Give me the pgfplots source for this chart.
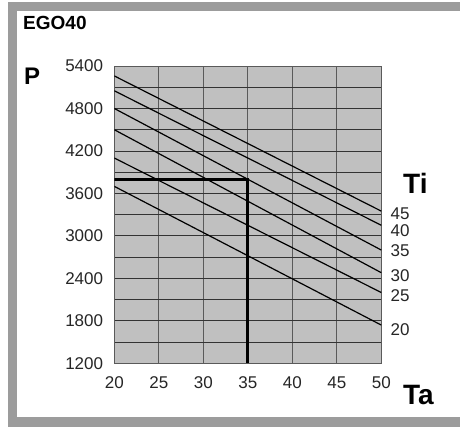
\documentclass[border=0pt]{standalone}
\usepackage{pgfplots}
\pgfplotsset{compat=1.18}
\usepackage{fontspec}
\setmainfont{Liberation Sans}
\definecolor{framegray}{HTML}{9C9C9C}
\definecolor{plotbg}{HTML}{C0C0C0}
\definecolor{vgrid}{HTML}{5A5A5A}
\definecolor{hgrid}{HTML}{333333}
\begin{document}
\begin{tikzpicture}[x=1bp,y=1bp]
\useasboundingbox (0,0) rectangle (460,-428);
\fill[framegray] (8,-2) rectangle (460,-427);
\fill[white] (17,-11) rectangle (460,-417);
\begin{axis}[
  anchor=north west, at={(114.3bp,-66bp)},
  scale only axis, width=267bp, height=297.3bp,
  xmin=20, xmax=50, ymin=1200, ymax=5400,
  xtick={20,25,...,50}, ytick={1200,1800,...,5400},
  minor ytick={1500,2100,...,5100},
  xmajorgrids, ymajorgrids, yminorgrids,
  major x grid style={vgrid, line width=1bp},
  major y grid style={hgrid, line width=0.9bp},
  minor y grid style={hgrid, line width=0.9bp},
  axis background/.style={fill=plotbg},
  axis line style={vgrid, line width=1bp},
  major tick length=0pt, minor tick length=0pt,
  tick label style={font=\fontsize{17bp}{20bp}\selectfont, inner sep=0pt, text=black!85},
  xticklabel shift=13.5bp, yticklabel shift=11bp,
  /pgf/number format/assume math mode=true,
  /pgf/number format/1000 sep={},
]
\addplot[black, line width=1.2bp] coordinates {(20,5260) (50,3350)};
\addplot[black, line width=1.2bp] coordinates {(20,5050) (50,3150)};
\addplot[black, line width=1.2bp] coordinates {(20,4800) (50,2800)};
\addplot[black, line width=1.2bp] coordinates {(20,4500) (50,2480)};
\addplot[black, line width=1.2bp] coordinates {(20,4100) (50,2200)};
\addplot[black, line width=1.2bp] coordinates {(20,3700) (50,1740)};
\addplot[black, line width=3bp] coordinates {(20,3800) (35,3800) (35,1200)};
\end{axis}
\node[anchor=north west, inner sep=0pt, font=\bfseries\fontsize{19bp}{22bp}\selectfont] at (23,-16) {EGO40};
\node[anchor=north west, inner sep=0pt, font=\bfseries\fontsize{24bp}{28bp}\selectfont] at (24,-68) {P};
\node[anchor=north west, inner sep=0pt, font=\bfseries\fontsize{28bp}{32bp}\selectfont] at (403,-173) {Ti};
\node[anchor=north west, inner sep=0pt, font=\bfseries\fontsize{28bp}{32bp}\selectfont] at (403,-385) {Ta};
\begin{scope}[every node/.style={anchor=west, inner sep=0pt, font=\fontsize{17bp}{20bp}\selectfont, text=black!85}]
\node at (390.5,-213.5) {45};
\node at (390.5,-230.7) {40};
\node at (390.5,-251) {35};
\node at (390.5,-276) {30};
\node at (390.5,-295.5) {25};
\node at (390.5,-329.5) {20};
\end{scope}
\end{tikzpicture}
\end{document}
